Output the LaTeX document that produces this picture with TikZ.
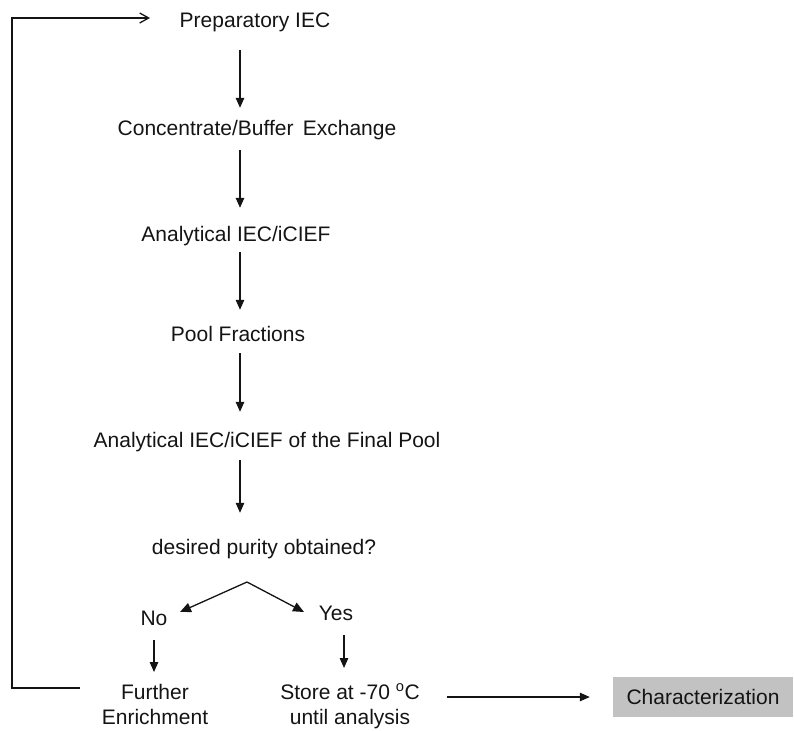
\documentclass[tikz,border=0pt]{standalone}
\usepackage{fontspec}
\setmainfont{Liberation Sans}
\usetikzlibrary{arrows.meta}
\definecolor{boxgray}{RGB}{194,194,194}
\definecolor{ink}{RGB}{20,20,20}
\begin{document}
\begin{tikzpicture}[x=1pt,y=-1pt,
  lbl/.style={inner sep=0pt,text height=15pt,text depth=4pt,text=ink,font=\fontsize{21}{27}\selectfont},
  mlbl/.style={inner sep=0pt,align=center,text=ink,font=\fontsize{21}{25}\selectfont},
  arr/.style={draw=ink,line width=1.3pt,-{Triangle[length=10pt,width=8.5pt]}},
  darr/.style={draw=ink,line width=1.3pt,-{Triangle[length=11pt,width=9.5pt]}},
  openarr/.style={draw=ink,line width=1.3pt,-{Straight Barb[length=9pt,width=10pt,line width=1.3pt]}},
  greybox/.style={fill=boxgray,draw=none,minimum width=180pt,minimum height=40pt,inner sep=0pt,text=ink,font=\fontsize{21}{24}\selectfont}]
\useasboundingbox (0,0) rectangle (794,730);
% columns
\coordinate (ax) at (240,0);
\coordinate (nox) at (154,0);
\coordinate (yesx) at (344,0);
% nodes
\node[lbl] (prep) at (255,22) {Preparatory IEC};
\node[lbl] (conc) at (257,130) {Concentrate/Buffer\, Exchange};
\node[lbl] (anal) at (236,236) {Analytical IEC/iCIEF};
\node[lbl] (pool) at (238,336) {Pool Fractions};
\node[lbl] (final) at (267,442) {Analytical IEC/iCIEF of the Final Pool};
\node[lbl] (desired) at (264,549) {desired purity obtained?};
\node[lbl] (no) at (154,620) {No};
\node[lbl] (yes) at (336,615) {Yes};
\node[mlbl,anchor=north] (further) at (155,684.5) {Further\\Enrichment};
\node[mlbl,anchor=north] (store) at (350,683.5) {Store at -70 \textsuperscript{o}C\\until analysis};
\node[greybox] (charbox) at (703,697) {Characterization};
% branch coordinates
\coordinate (apex) at (247,582);
\coordinate (notip) at (180,612);
\coordinate (yestip) at (304,612);
% feedback coordinates
\coordinate (fbstart) at (80,688);
\coordinate (fbcorner) at (12,18);
\coordinate (fbtip) at (150,18);
% vertical arrows
\draw[arr,shorten <=18.5pt,shorten >=12.5pt] (prep.south -| ax) -- (conc.north -| ax);
\draw[arr,shorten <=10.5pt,shorten >=18.5pt] (conc.south -| ax) -- (anal.north -| ax);
\draw[arr,shorten <=6.5pt,shorten >=16.5pt] (anal.south -| ax) -- (pool.north -| ax);
\draw[arr,shorten <=7.5pt,shorten >=20.5pt] (pool.south -| ax) -- (final.north -| ax);
\draw[arr,shorten <=8.5pt,shorten >=26.5pt] (final.south -| ax) -- (desired.north -| ax);
% branch
\draw[darr] (apex) -- (notip);
\draw[darr] (apex) -- (yestip);
\draw[arr,shorten <=10.5pt,shorten >=12.5pt] (no.south -| nox) -- (further.north -| nox);
\draw[arr,shorten <=10.5pt,shorten >=15.5pt] (yes.south -| yesx) -- (store.north -| yesx);
% to characterization
\draw[arr,shorten <=27pt,shorten >=23pt] (store.east |- charbox.west) -- (charbox.west);
% feedback loop
\draw[openarr] (fbstart) -| (fbcorner) -- (fbtip);
\end{tikzpicture}
\end{document}
